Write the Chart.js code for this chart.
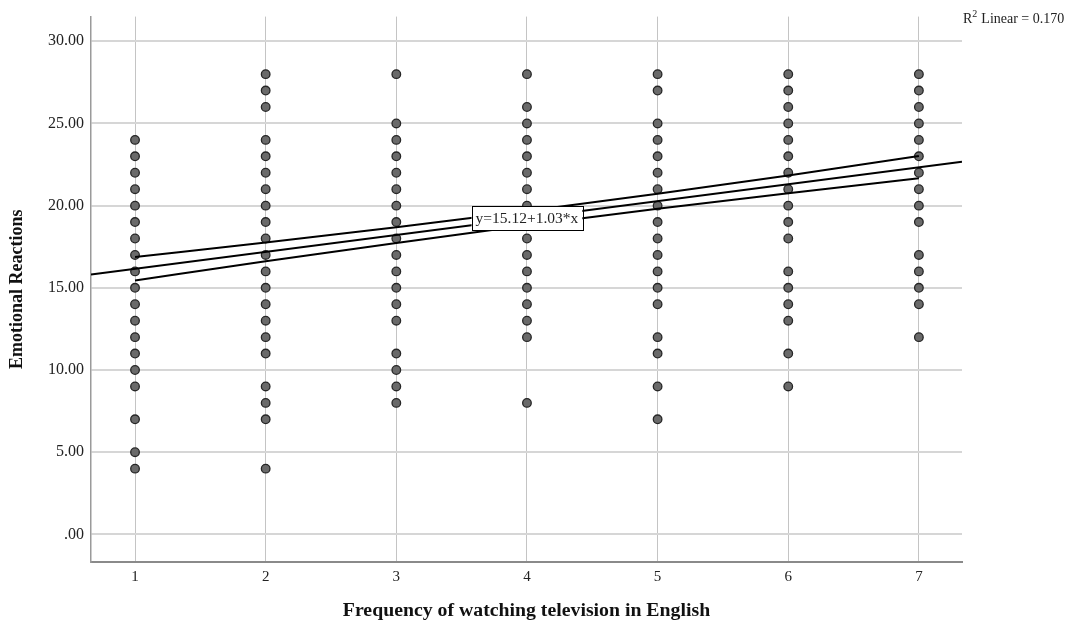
<!DOCTYPE html>
<html>
<head>
<meta charset="utf-8">
<script src="https://cdn.jsdelivr.net/npm/chart.js@4/dist/chart.umd.min.js"></script>
<style>
  body { margin: 0; background: #fff; }
  #wrap { width: 1068px; height: 623px; }
</style>
</head>
<body>
<div id="wrap"><canvas id="myChart" width="1068" height="623"></canvas></div>
<script>
// Frequency levels and the observed scores at each level
const freqLevels = [1, 2, 3, 4, 5, 6, 7];
const freq1 = [24, 23, 22, 21, 20, 19, 18, 17, 16, 15, 14, 13, 12, 11, 10, 9, 7, 5, 4];
const freq2 = [28, 27, 26, 24, 23, 22, 21, 20, 19, 18, 17, 16, 15, 14, 13, 12, 11, 9, 8, 7, 4];
const freq3 = [28, 25, 24, 23, 22, 21, 20, 19, 18, 17, 16, 15, 14, 13, 11, 10, 9, 8];
const freq4 = [28, 26, 25, 24, 23, 22, 21, 20, 19, 18, 17, 16, 15, 14, 13, 12, 8];
const freq5 = [28, 27, 25, 24, 23, 22, 21, 20, 19, 18, 17, 16, 15, 14, 12, 11, 9, 7];
const freq6 = [28, 27, 26, 25, 24, 23, 22, 21, 20, 19, 18, 16, 15, 14, 13, 11, 9];
const freq7 = [28, 27, 26, 25, 24, 23, 22, 21, 20, 19, 17, 16, 15, 14, 12];

// Fit line and mean confidence band (read at each level)
const intercept = 15.12;
const slope = 1.03;
const rSquared = 0.170;
const ciUpper = [16.87, 17.76, 18.69, 19.67, 20.72, 21.84, 23.02];
const ciLower = [15.45, 16.62, 17.73, 18.80, 19.81, 20.76, 21.66];

// Axis ticks / range
const yTicks = [0, 5, 10, 15, 20, 25, 30];
const xMin = 0.663, xMax = 7.33;
const yMin = -1.68, yMax = 31.5;

const SERIF = "'Liberation Serif', 'Times New Roman', serif";

// build scatter points
const columns = [freq1, freq2, freq3, freq4, freq5, freq6, freq7];
let points = [];
columns.forEach((col, i) => {
  col.forEach((v) => points.push({ x: freqLevels[i], y: v }));
});

const fitLine = [
  { x: xMin, y: intercept + slope * xMin },
  { x: xMax, y: intercept + slope * xMax },
];
const upperLine = freqLevels.map((f, i) => ({ x: f, y: ciUpper[i] }));
const lowerLine = freqLevels.map((f, i) => ({ x: f, y: ciLower[i] }));

// Equation box and R2 text
const labelPlugin = {
  id: "labels",
  afterDatasetsDraw(chart) {
    const { ctx, scales, chartArea } = chart;
    const text = "y=" + intercept.toFixed(2) + "+" + slope.toFixed(2) + "*x";
    const cx = scales.x.getPixelForValue(4);
    const cy = scales.y.getPixelForValue(intercept + slope * 4);
    ctx.save();
    ctx.font = "15.5px " + SERIF;
    const w = ctx.measureText(text).width + 8;
    const h = 24;
    ctx.fillStyle = "#fff";
    ctx.fillRect(cx - w / 2, cy - h / 2, w, h);
    ctx.strokeStyle = "#000";
    ctx.lineWidth = 1;
    ctx.strokeRect(Math.round(cx - w / 2) + 0.5, Math.round(cy - h / 2) + 0.5, Math.round(w), h);
    ctx.fillStyle = "#222";
    ctx.textAlign = "center";
    ctx.textBaseline = "middle";
    ctx.fillText(text, cx, cy + 1);

    // R2 Linear label
    let x = chartArea.right + 1;
    const base = 23;
    ctx.textAlign = "left";
    ctx.textBaseline = "alphabetic";
    ctx.font = "14px " + SERIF;
    ctx.fillText("R", x, base);
    x += ctx.measureText("R").width;
    ctx.font = "10px " + SERIF;
    ctx.fillText("2", x, base - 6);
    x += ctx.measureText("2").width + 4;
    ctx.font = "14px " + SERIF;
    ctx.fillText("Linear = " + rSquared.toFixed(3), x, base);
    ctx.restore();
  },
};

var ctx = document.getElementById("myChart");
var myChart = new Chart(ctx, {
  type: "scatter",
  data: {
    datasets: [
      {
        type: "line",
        order: 0,
        data: fitLine,
        borderColor: "#000",
        borderWidth: 2,
        pointRadius: 0,
        fill: false,
      },
      {
        type: "line",
        order: 0,
        data: upperLine,
        borderColor: "#000",
        borderWidth: 2,
        pointRadius: 0,
        cubicInterpolationMode: "monotone",
        fill: false,
      },
      {
        type: "line",
        order: 0,
        data: lowerLine,
        borderColor: "#000",
        borderWidth: 2,
        pointRadius: 0,
        cubicInterpolationMode: "monotone",
        fill: false,
      },
      {
        order: 1,
        data: points,
        pointRadius: 4.3,
        pointBackgroundColor: "#6a6a6a",
        pointBorderColor: "#262626",
        pointBorderWidth: 1.3,
      },
    ],
  },
  options: {
    responsive: false,
    animation: false,
    layout: { padding: { top: 13, right: 106, left: 0, bottom: 0 } },
    plugins: { legend: { display: false }, tooltip: { enabled: false } },
    scales: {
      x: {
        type: "linear",
        min: xMin,
        max: xMax,
        afterBuildTicks: (scale) => {
          scale.ticks = freqLevels.map((v) => ({ value: v }));
        },
        afterFit: (scale) => {
          scale.height = 61;
        },
        ticks: {
          padding: 6,
          color: "#222",
          font: { family: SERIF, size: 15 },
          callback: (v) => String(v),
        },
        grid: { color: "#c4c4c4", lineWidth: 1, drawTicks: false },
        border: { color: "#8a8a8a", width: 2 },
        title: {
          display: true,
          text: "Frequency of watching television in English",
          color: "#111",
          font: { family: SERIF, size: 19.8, weight: "bold" },
          padding: { top: 0, bottom: 0 },
        },
      },
      y: {
        type: "linear",
        min: yMin,
        max: yMax,
        afterBuildTicks: (scale) => {
          scale.ticks = yTicks.map((v) => ({ value: v }));
        },
        afterFit: (scale) => {
          scale.width = 91;
        },
        ticks: {
          padding: 7,
          color: "#222",
          font: { family: SERIF, size: 16 },
          callback: (v) => (v === 0 ? ".00" : v.toFixed(2)),
        },
        grid: { color: "#d6d6d6", lineWidth: 2, drawTicks: false },
        border: { color: "#9a9a9a", width: 1.5 },
        title: {
          display: true,
          text: "Emotional Reactions",
          color: "#111",
          font: { family: SERIF, size: 18, weight: "bold" },
          padding: { top: 7, bottom: 0 },
        },
      },
    },
  },
  plugins: [labelPlugin],
});
</script>
</body>
</html>
